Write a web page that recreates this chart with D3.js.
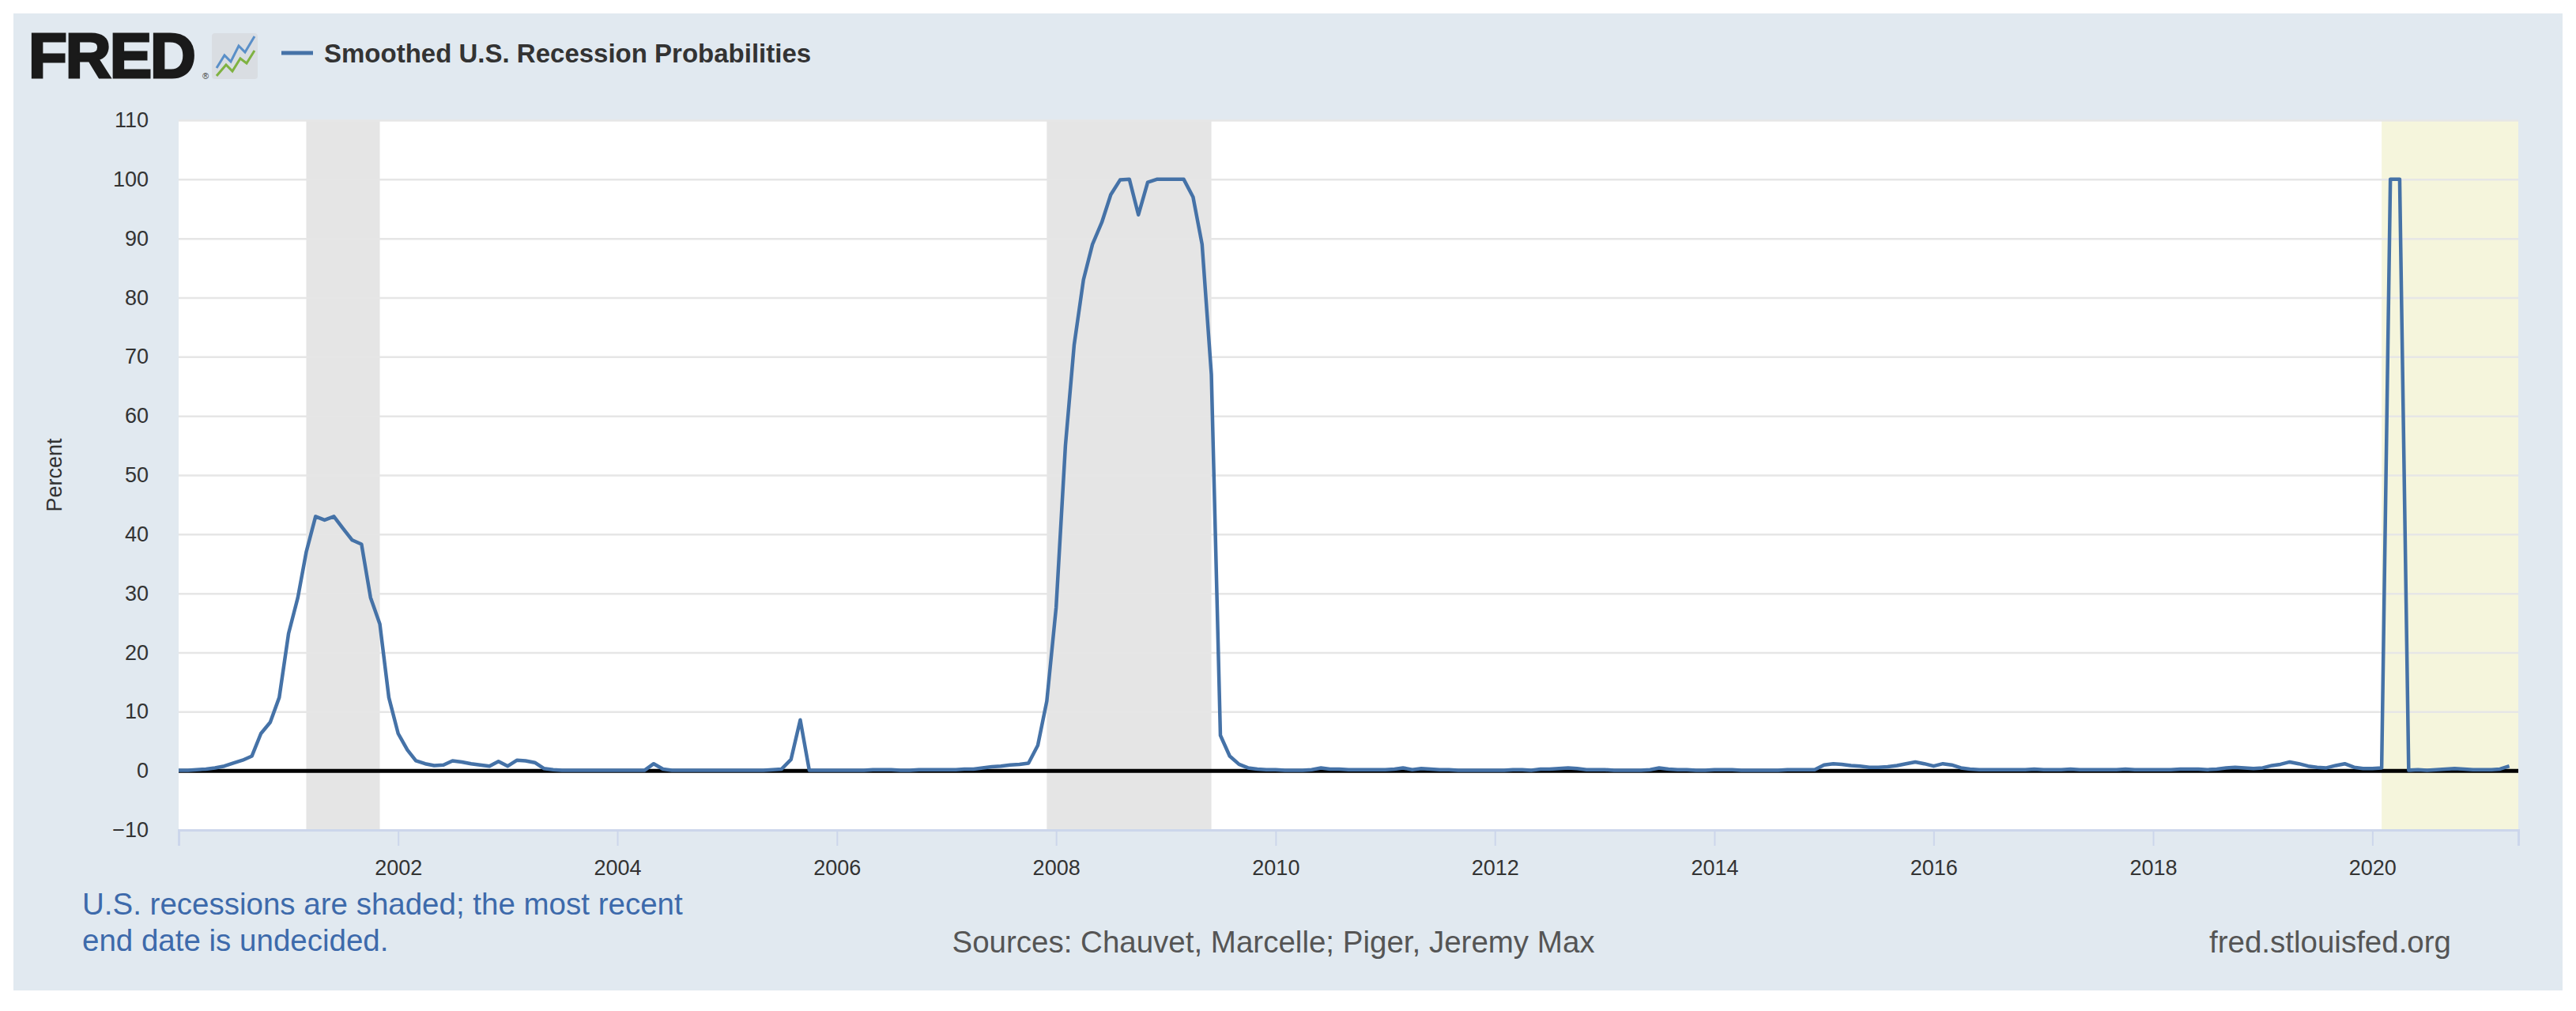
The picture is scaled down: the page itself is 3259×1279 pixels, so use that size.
<!DOCTYPE html>
<html><head><meta charset="utf-8">
<script src="https://cdn.jsdelivr.net/npm/d3@7"></script>
<style>body{margin:0;background:#fff;}svg{display:block;font-family:"Liberation Sans",Arial,sans-serif;}</style>
</head><body>
<svg id="c" width="3259" height="1279"></svg>
<script>
const startYear = 2000;
const y2000 = [0.1,0.1,0.2,0.3,0.5,0.8,1.3,1.8,2.5,6.3,8.2,12.4];
const y2001 = [23.2,29.3,37,43,42.4,43,41,39,38.3,29.3,24.8,12.4];
const y2002 = [6.3,3.5,1.7,1.2,0.9,1.0,1.7,1.5,1.2,1.0,0.8,1.6];
const y2003 = [0.8,1.8,1.7,1.4,0.4,0.2,0.1,0.1,0.1,0.1,0.1,0.1];
const y2004 = [0.1,0.1,0.1,0.1,1.2,0.3,0.1,0.1,0.1,0.1,0.1,0.1];
const y2005 = [0.1,0.1,0.1,0.1,0.1,0.2,0.3,1.9,8.6,0.1,0.1,0.1];
const y2006 = [0.1,0.1,0.1,0.1,0.2,0.2,0.2,0.1,0.1,0.2,0.2,0.2];
const y2007 = [0.2,0.2,0.3,0.3,0.5,0.7,0.8,1.0,1.1,1.3,4.3,11.8];
const y2008 = [27.6,55,72,83,89,92.7,97.4,99.9,100,94,99.5,100];
const y2009 = [100,100,100,97,89,67,6,2.5,1.1,0.5,0.3,0.2];
const y2010 = [0.2,0.1,0.1,0.1,0.2,0.5,0.3,0.3,0.2,0.2,0.2,0.2];
const y2011 = [0.2,0.3,0.5,0.2,0.4,0.3,0.2,0.2,0.1,0.1,0.1,0.1];
const y2012 = [0.1,0.1,0.2,0.2,0.1,0.3,0.3,0.4,0.5,0.4,0.2,0.2];
const y2013 = [0.2,0.1,0.1,0.1,0.1,0.2,0.5,0.3,0.2,0.2,0.1,0.1];
const y2014 = [0.2,0.2,0.2,0.1,0.1,0.1,0.1,0.1,0.2,0.2,0.2,0.2];
const y2015 = [1.0,1.2,1.1,0.9,0.8,0.6,0.6,0.7,0.9,1.2,1.5,1.2];
const y2016 = [0.8,1.2,1.0,0.5,0.3,0.2,0.2,0.2,0.2,0.2,0.2,0.3];
const y2017 = [0.2,0.2,0.2,0.3,0.2,0.2,0.2,0.2,0.2,0.3,0.2,0.2];
const y2018 = [0.2,0.2,0.2,0.3,0.3,0.3,0.2,0.3,0.5,0.6,0.5,0.4];
const y2019 = [0.5,0.9,1.1,1.5,1.2,0.8,0.6,0.5,0.9,1.2,0.6,0.4];
const y2020 = [0.4,0.5,100,100,0.1,0.2,0.1,0.2,0.3,0.4,0.3,0.2];
const y2021 = [0.2,0.2,0.3,0.8];
const recessions = [["2001-03-01","2001-11-01"],["2007-12-01","2009-06-01"]];
const undecided = ["2020-02-01","2021-05-01"];
const yTicks = [-10,0,10,20,30,40,50,60,70,80,90,100,110];
const xTickYears = [2002,2004,2006,2008,2010,2012,2014,2016,2018,2020];

const all = [y2000,y2001,y2002,y2003,y2004,y2005,y2006,y2007,y2008,y2009,y2010,y2011,y2012,y2013,y2014,y2015,y2016,y2017,y2018,y2019,y2020,y2021];
const data = [];
all.forEach((arr,i)=>arr.forEach((v,m)=>data.push({d:new Date(startYear+i,m,1),v})));

const svg = d3.select("#c");
svg.append("rect").attr("x",17).attr("y",17).attr("width",3225).attr("height",1236).attr("fill","#e1e9f0");

const L=226,R=3186,T=152,B=1050;
const x = d3.scaleTime().domain([new Date(2000,0,1),new Date(2021,4,1)]).range([L,R]);
const y = d3.scaleLinear().domain([-10,110]).range([B,T]);
svg.append("rect").attr("x",L).attr("y",T).attr("width",R-L).attr("height",B-T).attr("fill","#fff");

const p = d3.timeParse("%Y-%m-%d");
svg.selectAll(".rec").data(recessions).enter().append("rect")
 .attr("x",d=>x(p(d[0]))).attr("width",d=>x(p(d[1]))-x(p(d[0])))
 .attr("y",T).attr("height",B-T).attr("fill","#e5e5e5");
svg.append("rect").attr("x",x(p(undecided[0]))).attr("width",x(p(undecided[1]))-x(p(undecided[0])))
 .attr("y",T).attr("height",B-T).attr("fill","#f5f5dc");

const yAxis = svg.append("g").attr("transform",`translate(${L},0)`)
 .call(d3.axisLeft(y).tickValues(yTicks).tickSize(-(R-L)).tickPadding(38));
yAxis.select(".domain").remove();
yAxis.selectAll("line").attr("stroke","#e6e6e6").attr("stroke-width",2.5);
yAxis.selectAll("text").attr("font-size",27).attr("fill","#333");

const xAxis = svg.append("g").attr("transform",`translate(0,${B})`)
 .call(d3.axisBottom(x).tickValues(xTickYears.map(yr=>new Date(yr,0,1))).tickFormat(d3.timeFormat("%Y")).tickSize(20).tickPadding(18));
xAxis.select(".domain").attr("stroke","#ccd6eb").attr("stroke-width",3);
xAxis.selectAll("line").attr("stroke","#ccd6eb").attr("stroke-width",2);
xAxis.selectAll("text").attr("font-size",27).attr("fill","#333");

svg.append("line").attr("x1",L).attr("x2",R).attr("y1",y(0)).attr("y2",y(0)).attr("stroke","#000").attr("stroke-width",5);

svg.append("path").datum(data).attr("fill","none").attr("stroke","#4572a7").attr("stroke-width",4.5)
 .attr("stroke-linejoin","round").attr("d",d3.line().x(d=>x(d.d)).y(d=>y(d.v)));

svg.append("text").attr("transform",`translate(78,${(T+B)/2}) rotate(-90)`).attr("text-anchor","middle")
 .attr("font-size",27).attr("fill","#333").text("Percent");

// header
svg.append("text").attr("x",36).attr("y",98).attr("font-size",80).attr("font-weight","bold")
 .attr("letter-spacing",-2).attr("stroke","#1a1a1a").attr("stroke-width",3).attr("fill","#1a1a1a").text("FRED");
svg.append("text").attr("x",256).attr("y",100).attr("font-size",11).attr("fill","#333").text("®");
const ic = svg.append("g").attr("transform","translate(268,42)");
ic.append("rect").attr("width",58).attr("height",58).attr("rx",4).attr("fill","#d9dde2");
ic.append("polyline").attr("points","6,44 16,28 24,36 34,16 42,24 54,4").attr("fill","none").attr("stroke","#5a8fc8").attr("stroke-width",3);
ic.append("polyline").attr("points","6,54 18,40 26,48 36,32 44,38 54,22").attr("fill","none").attr("stroke","#7fb241").attr("stroke-width",3);
svg.append("line").attr("x1",356).attr("x2",396).attr("y1",67).attr("y2",67).attr("stroke","#4572a7").attr("stroke-width",5);
svg.append("text").attr("x",410).attr("y",79).attr("font-size",33).attr("font-weight","bold").attr("fill","#333")
 .text("Smoothed U.S. Recession Probabilities");

// footer
svg.append("text").attr("x",104).attr("y",1157).attr("font-size",38.5).attr("fill","#3d6aab").text("U.S. recessions are shaded; the most recent");
svg.append("text").attr("x",104).attr("y",1203).attr("font-size",38.5).attr("fill","#3d6aab").text("end date is undecided.");
svg.append("text").attr("x",1611).attr("y",1205).attr("text-anchor","middle").attr("font-size",38.5).attr("fill","#555").text("Sources: Chauvet, Marcelle; Piger, Jeremy Max");
svg.append("text").attr("x",3101).attr("y",1205).attr("text-anchor","end").attr("font-size",38.5).attr("fill","#555").text("fred.stlouisfed.org");
</script></body></html>
